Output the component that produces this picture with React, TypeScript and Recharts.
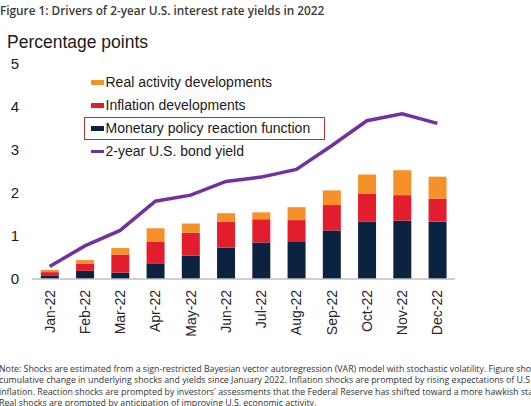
import React from "react";
import { ComposedChart, Bar, Line, XAxis, YAxis, Legend } from "recharts";

// 类别与数据
const months = ["Jan-22", "Feb-22", "Mar-22", "Apr-22", "May-22", "Jun-22", "Jul-22", "Aug-22", "Sep-22", "Oct-22", "Nov-22", "Dec-22"];
const monetaryPolicy = [0.085, 0.19, 0.15, 0.35, 0.54, 0.73, 0.85, 0.86, 1.13, 1.33, 1.36, 1.34];
const inflationDev = [0.075, 0.17, 0.42, 0.51, 0.54, 0.6, 0.54, 0.51, 0.59, 0.66, 0.59, 0.53];
const realActivity = [0.05, 0.08, 0.15, 0.32, 0.21, 0.2, 0.16, 0.3, 0.34, 0.44, 0.58, 0.51];
const bondYield = [0.29, 0.77, 1.13, 1.81, 1.95, 2.27, 2.37, 2.55, 3.1, 3.68, 3.84, 3.62];
const yTicks = [0, 1, 2, 3, 4, 5];

const legendOrder = ["Real activity developments", "Inflation developments", "Monetary policy reaction function", "2-year U.S. bond yield"];

const noteLines = [
  "Note: Shocks are estimated from a sign-restricted Bayesian vector autoregression (VAR) model with stochastic volatility. Figure shows the",
  "cumulative change in underlying shocks and yields since January 2022. Inflation shocks are prompted by rising expectations of U.S.",
  "inflation. Reaction shocks are prompted by investors' assessments that the Federal Reserve has shifted toward a more hawkish stance.",
  "Real shocks are prompted by anticipation of improving U.S. economic activity.",
];

const data = months.map((m, i) => ({
  month: m,
  monetary: monetaryPolicy[i],
  inflation: inflationDev[i],
  real: realActivity[i],
  yield: bondYield[i],
}));

const COLORS = {
  monetary: "#0b2341",
  inflation: "#e31d2d",
  real: "#f6912a",
  line: "#7132a0",
};

/**
 * X 轴竖排标签
 */
function MonthTick({ x, y, payload }: any) {
  return (
    <g transform={`translate(${x},${y})`}>
      <text transform="rotate(-90)" textAnchor="end" dx={-3} dy="0.35em" fontSize={14} fill="#262626" fontFamily="'Liberation Sans', Arial, sans-serif">
        {payload.value}
      </text>
    </g>
  );
}

/**
 * 图例
 */
function ChartLegend({ payload }: any) {
  const items = [...(payload || [])].sort((a, b) => legendOrder.indexOf(a.value) - legendOrder.indexOf(b.value));
  return (
    <div style={{ fontFamily: "'Liberation Sans', Arial, sans-serif", fontSize: 14, color: "#1a1a1a", textAlign: "left" }}>
      {items.map((item: any) => {
        const boxed = item.value === "Monetary policy reaction function";
        const isLine = item.type === "line";
        return (
          <div
            key={item.value}
            style={{
              height: 23,
              boxSizing: "border-box",
              width: boxed ? 241 : 260,
              border: boxed ? "1.5px solid #a9372f" : "1.5px solid transparent",
              display: "flex",
              alignItems: "center",
              paddingLeft: 5.5,
            }}
          >
            <span
              style={{
                display: "inline-block",
                width: 13,
                height: isLine ? 3 : 5,
                background: item.color,
                marginRight: 2,
              }}
            />
            <span>{item.value}</span>
          </div>
        );
      })}
    </div>
  );
}

export default function App() {
  return (
    <div style={{ position: "absolute", left: 0, top: 0, width: 531, height: 406, background: "#fff", overflow: "hidden" }}>
      {/* 标题 */}
      <div style={{
        position: "absolute",
        left: 0,
        top: 2,
        fontFamily: "'Open Sans', sans-serif",
        fontSize: 11.8,
        fontWeight: 600,
        color: "#3a3a3a",
        whiteSpace: "nowrap",
      }}>Figure 1: Drivers of 2-year U.S. interest rate yields in 2022</div>

      <div style={{
        position: "absolute",
        left: 7,
        top: 32,
        fontFamily: "'Liberation Sans', Arial, sans-serif",
        fontSize: 17.5,
        color: "#1a1a1a",
        whiteSpace: "nowrap",
      }}>Percentage points</div>

      {/* 图表 */}
      <div style={{ position: "absolute", left: 0, top: 0 }}>
        <ComposedChart
          width={531}
          height={406}
          data={data}
          margin={{ top: 64, right: 76, bottom: 67, left: 0 }}
          barCategoryGap="25%"
        >
          <XAxis
            dataKey="month"
            height={60}
            interval={0}
            tickLine={false}
            axisLine={{ stroke: "#bfbfbf", strokeWidth: 1.5 }}
            tick={<MonthTick />}
          />
          <YAxis
            width={32}
            domain={[0, 5]}
            ticks={yTicks}
            axisLine={false}
            tickLine={false}
            tickMargin={7}
            tick={{ fill: "#1a1a1a", fontSize: 15, fontFamily: "'Liberation Sans', Arial, sans-serif" }}
          />
          <Legend
            layout="vertical"
            align="center"
            verticalAlign="middle"
            content={<ChartLegend />}
            wrapperStyle={{ position: "absolute", left: 84, top: 70.5, width: 260 }}
          />
          <Bar dataKey="monetary" name="Monetary policy reaction function" stackId="a" fill={COLORS.monetary} isAnimationActive={false} />
          <Bar dataKey="inflation" name="Inflation developments" stackId="a" fill={COLORS.inflation} isAnimationActive={false} />
          <Bar dataKey="real" name="Real activity developments" stackId="a" fill={COLORS.real} isAnimationActive={false} />
          <Line
            dataKey="yield"
            name="2-year U.S. bond yield"
            type="linear"
            stroke={COLORS.line}
            strokeWidth={3.5}
            dot={false}
            legendType="line"
            isAnimationActive={false}
          />
        </ComposedChart>
      </div>

      {/* 注释 */}
      <div style={{
        position: "absolute",
        left: -1,
        top: 364,
        fontFamily: "'Open Sans', sans-serif",
        fontSize: 8.8,
        lineHeight: "11.3px",
        color: "#333",
        whiteSpace: "nowrap",
      }}>
        {noteLines.map((l) => <div key={l}>{l}</div>)}
      </div>
    </div>
  );
}
